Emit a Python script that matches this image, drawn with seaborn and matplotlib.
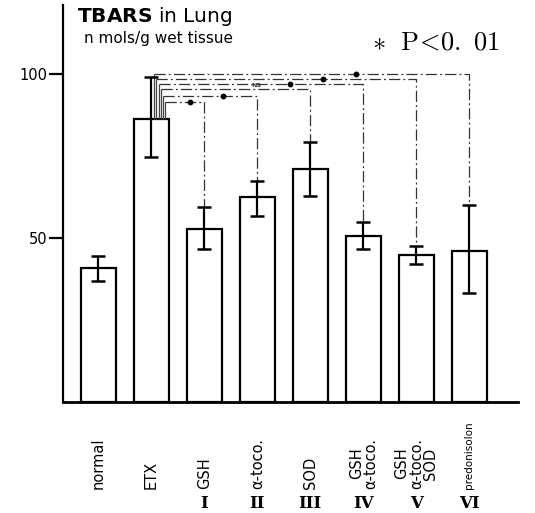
import matplotlib
matplotlib.use("Agg")
import matplotlib.pyplot as plt
import seaborn as sns
import pandas as pd

sns.set_style("ticks")
plt.rcParams["font.family"] = ["DejaVu Sans"]
plt.rcParams["text.color"] = "black"
plt.rcParams["axes.edgecolor"] = "black"
plt.rcParams["ytick.color"] = "black"
plt.rcParams["ytick.labelcolor"] = "black"

# TBARS in lung tissue (nmol/g wet tissue), mean with error-bar bounds
groups = ["normal", "ETX", "GSH", "α-toco.", "SOD",
          "GSH\nα-toco.", "GSH\nα-toco.\nSOD", "predonisolon"]
numerals = ["", "", "I", "II", "III", "IV", "V", "VI"]
means = [40.8, 86.2, 52.7, 62.5, 71.0, 50.6, 44.7, 46.0]
err_upper = [44.6, 99.0, 59.5, 67.5, 79.2, 54.9, 47.4, 59.9]
err_lower = [37.0, 74.8, 46.7, 56.8, 62.9, 46.7, 42.2, 33.3]

# comparisons against ETX: target group index, bracket height, result
cmp_targets = [2, 3, 4, 5, 6, 7]
cmp_heights = [91.4, 93.3, 95.3, 97.0, 98.5, 100.0]
cmp_results = ["*", "*", "NS", "*", "*", "*"]

df = pd.DataFrame({"group": groups, "tbars": means})

fig = plt.figure(figsize=(5.35, 5.13), dpi=100)
ax = fig.add_axes([63 / 535, 111 / 513, 455 / 535, 397 / 513])

sns.barplot(data=df, x="group", y="tbars", order=groups, ax=ax,
            color="white", edgecolor="black", linewidth=1.6,
            width=0.66, errorbar=None)

xs = list(range(len(groups)))
lo = [m - l for m, l in zip(means, err_lower)]
hi = [u - m for m, u in zip(means, err_upper)]
ax.errorbar(xs, means, yerr=[lo, hi], fmt="none", ecolor="black",
            elinewidth=1.6, capsize=5, capthick=1.8, zorder=4)

# significance brackets from the ETX bar
src = 1
n = len(cmp_targets)
dashdot = (0, (9, 2.5, 1.5, 2.5))
for k, (t, h, r) in enumerate(zip(cmp_targets, cmp_heights, cmp_results)):
    x0 = src + 0.05 + 0.043 * (n - 1 - k)
    ax.plot([x0, x0], [means[src], h], color="#444444", lw=0.9,
            zorder=3, solid_capstyle="butt")
    ax.plot([x0, t, t], [h, h, err_upper[t]], color="#333333", lw=0.9,
            linestyle=dashdot, zorder=3)
    xm = x0 + 0.64 * (t - x0)
    if r == "*":
        ax.plot([xm], [h], marker="o", ms=3.2, color="black", zorder=5)
    else:
        ax.text(xm, h + 0.3, "NS", fontsize=4.5, ha="center", va="bottom",
                color="#333333", fontweight="bold")

ax.set_xlim(-0.67, 7.92)
ax.set_ylim(0, 121)
ax.set_yticks([50, 100])
ax.set_yticklabels(["50", "100"], fontsize=10.5)
ax.set_xticks([])
ax.set_xlabel("")
ax.set_ylabel("")
ax.tick_params(axis="y", direction="out", length=10, width=1.6, pad=1,
               colors="black")
for side in ("top", "right"):
    ax.spines[side].set_visible(False)
ax.spines["left"].set_linewidth(1.6)
ax.spines["bottom"].set_linewidth(2.0)

# group names (rotated) and roman numerals under the axis
for i, (g, num) in enumerate(zip(groups, numerals)):
    small = g == "predonisolon"
    ax.text(i, -26.5, g, rotation=90, ha="center", va="bottom",
            fontsize=7.5 if small else 10.5, linespacing=0.95,
            clip_on=False)
    if num:
        ax.text(i, -31.0, num, ha="center", va="center", fontsize=12,
                fontweight="bold", family="DejaVu Serif", clip_on=False)

fig.text(77 / 535, 1 - 22 / 513, r"$\mathbf{TBARS}$ in Lung",
         fontsize=14.5, va="baseline")
fig.text(84 / 535, 1 - 43 / 513, "n mols/g wet tissue",
         fontsize=11, va="baseline")
fig.text(372 / 535, 1 - 50 / 513, r"$\ast\ \ \mathrm{P}\!<\!0.\ 01$",
         fontsize=19, va="baseline", math_fontfamily="cm")

fig.savefig("out.png", dpi=100)
